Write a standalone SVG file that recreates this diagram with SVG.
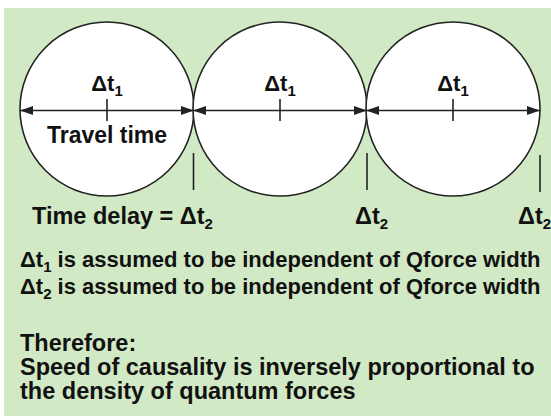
<svg xmlns="http://www.w3.org/2000/svg" width="551" height="416" viewBox="0 0 551 416">
<style>
text{font-family:"Liberation Sans",Arial,sans-serif;font-weight:bold;fill:#111;}
.t{font-size:22px;}
.big{font-size:23.5px;}
.sub{font-size:15px;}
.circ{fill:#fff;stroke:#222;stroke-width:1.6;}
.ln{stroke:#222;stroke-width:1.6;fill:none;}
</style>
<defs>
<marker id="ah" viewBox="0 0 13 9" refX="13" refY="4.5" markerWidth="13" markerHeight="9" markerUnits="userSpaceOnUse" orient="auto-start-reverse">
<path d="M0,0 L13,4.5 L0,9 Z" fill="#222"/>
</marker>
</defs>
<rect x="0" y="0" width="551" height="416" fill="#fff"/>
<rect x="4" y="8" width="547" height="408" fill="#d1e9c4"/>
<g id="circle1">
<circle class="circ" cx="107" cy="109" r="87"/>
<text class="t" x="107" y="91" text-anchor="middle">Δt<tspan class="sub" dy="5">1</tspan></text>
<text class="t" x="107" y="143" text-anchor="middle" style="font-size:23px">Travel time</text>
</g>
<g id="circle2">
<circle class="circ" cx="280" cy="109" r="87"/>
<text class="t" x="280" y="91" text-anchor="middle">Δt<tspan class="sub" dy="5">1</tspan></text>
</g>
<g id="circle3">
<circle class="circ" cx="453" cy="109" r="87"/>
<text class="t" x="453" y="91" text-anchor="middle">Δt<tspan class="sub" dy="5">1</tspan></text>
</g>
<g id="connectors">
<line class="ln" x1="20" y1="110.5" x2="194" y2="110.5" marker-start="url(#ah)" marker-end="url(#ah)"/>
<line class="ln" x1="193" y1="110.5" x2="367" y2="110.5" marker-start="url(#ah)" marker-end="url(#ah)"/>
<line class="ln" x1="366" y1="110.5" x2="540" y2="110.5" marker-start="url(#ah)" marker-end="url(#ah)"/>
<line class="ln" x1="107" y1="99" x2="107" y2="121"/>
<line class="ln" x1="280" y1="99" x2="280" y2="121"/>
<line class="ln" x1="453" y1="99" x2="453" y2="121"/>
<line class="ln" x1="193.5" y1="153" x2="193.5" y2="190"/>
<line class="ln" x1="367" y1="153" x2="367" y2="190"/>
<line class="ln" x1="540" y1="155" x2="540" y2="192"/>
</g>
<g id="labels">
<text class="big" x="32" y="224">Time delay = Δt<tspan class="sub" dy="5">2</tspan></text>
<text class="big" x="355" y="224">Δt<tspan class="sub" dy="5">2</tspan></text>
<text class="big" x="518" y="224">Δt<tspan class="sub" dy="5">2</tspan></text>
<text class="t" x="20" y="267">Δt<tspan class="sub" dy="5">1</tspan><tspan dy="-5"> is assumed to be independent of Qforce width</tspan></text>
<text class="t" x="20" y="294">Δt<tspan class="sub" dy="5">2</tspan><tspan dy="-5"> is assumed to be independent of Qforce width</tspan></text>
<text class="big" x="20" y="351">Therefore:</text>
<text class="big" x="20" y="375">Speed of causality is inversely proportional to</text>
<text class="big" x="20" y="399">the density of quantum forces</text>
</g>
</svg>
